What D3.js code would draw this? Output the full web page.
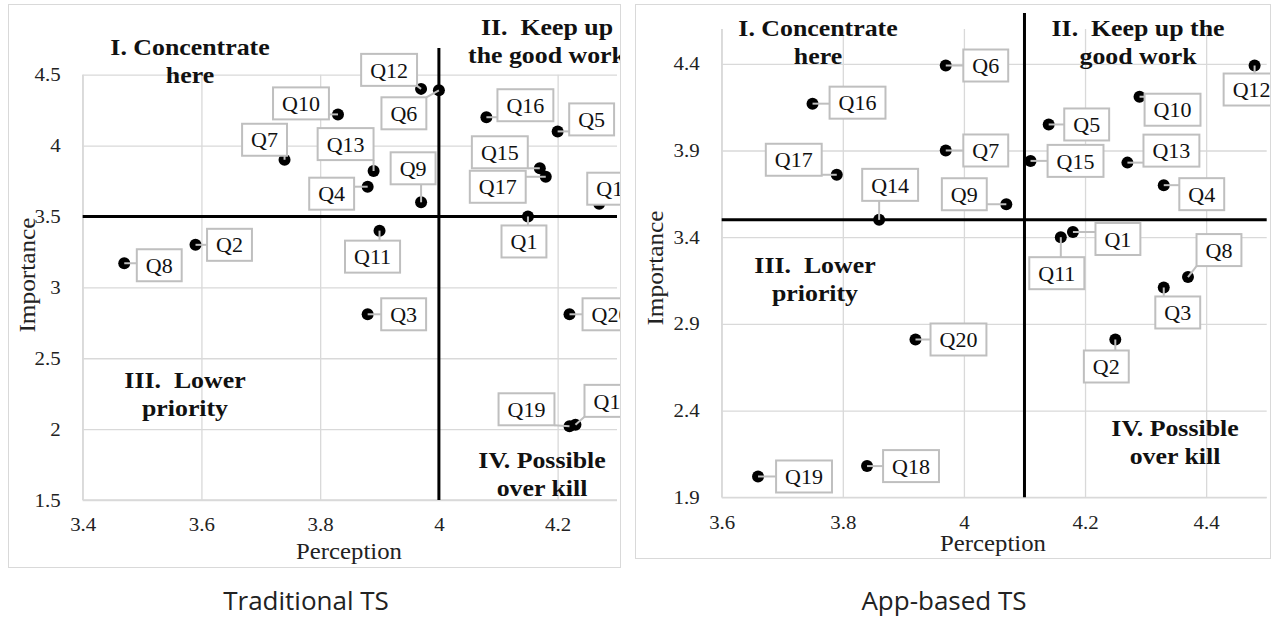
<!DOCTYPE html>
<html>
<head>
<meta charset="utf-8">
<script src="https://cdn.jsdelivr.net/npm/d3@7"></script>
<style>
  html, body { margin: 0; padding: 0; background: #fff; }
  svg { display: block; }
</style>
</head>
<body>
<svg id="chart" width="1276" height="619"></svg>
<script>
// ---- data: Traditional TS ----
const tradQuestions = ["Q1","Q2","Q3","Q4","Q5","Q6","Q7","Q8","Q9","Q10",
  "Q11","Q12","Q13","Q14","Q15","Q16","Q17","Q18","Q19","Q20"];
const tradPerception = [4.15, 3.59, 3.88, 3.88, 4.20, 4.00, 3.74, 3.47, 3.97, 3.83,
  3.90, 3.97, 3.89, 4.27, 4.17, 4.08, 4.18, 4.23, 4.22, 4.22];
const tradImportance = [3.50, 3.30, 2.81, 3.71, 4.10, 4.39, 3.90, 3.17, 3.60, 4.22,
  3.40, 4.40, 3.82, 3.59, 3.84, 4.20, 3.78, 2.03, 2.02, 2.81];
const tradXTicks = [3.4, 3.6, 3.8, 4, 4.2];
const tradYTicks = [1.5, 2, 2.5, 3, 3.5, 4, 4.5];
const tradXDomain = [3.4, 4.3];
const tradYDomain = [1.5, 4.5];
const tradCut = [4, 3.5];

// ---- data: App-based TS ----
const appQuestions = tradQuestions;
const appPerception = [4.18, 4.25, 4.33, 4.33, 4.14, 3.97, 3.97, 4.37, 4.07, 4.29,
  4.16, 4.48, 4.27, 3.86, 4.11, 3.75, 3.79, 3.84, 3.66, 3.92];
const appImportance = [3.43, 2.81, 3.11, 3.70, 4.05, 4.39, 3.90, 3.17, 3.59, 4.21,
  3.40, 4.39, 3.83, 3.50, 3.84, 4.17, 3.76, 2.08, 2.02, 2.81];
const appXTicks = [3.6, 3.8, 4, 4.2, 4.4];
const appYTicks = [1.9, 2.4, 2.9, 3.4, 3.9, 4.4];
const appXDomain = [3.6, 4.5];
const appYDomain = [1.9, 4.6];
const appCut = [4.1, 3.5];

const quadrantTexts = [
  ["I. Concentrate", "here"],
  ["II.  Keep up", "the good work"],
  ["III.  Lower", "priority"],
  ["IV. Possible", "over kill"]
];
const appQuadrantTexts = [
  ["I. Concentrate", "here"],
  ["II.  Keep up the", "good work"],
  ["III.  Lower", "priority"],
  ["IV. Possible", "over kill"]
];

// ---- layout (pixels) ----
// callout box centre relative to its point, per question
const tradCallout = [[-4,25],[34,0],[36,0],[-36,7],[34,-12],[-35,23],[-20,-20],[35,2],[-8,-34],[-37,-11],
  [-7,26],[-32,-19],[-28,-27],[16,-15],[-40,-16],[39,-12],[-48,10],[37,-24],[-43,-17],[41,0]];
const appCallout = [[45,7],[-9,27],[14,25],[38,9],[38,0],[40,0],[40,0],[31,-27],[-42,-10],[33,13],
  [-4,36],[-3,24],[44,-12],[11,-35],[45,0],[45,-1],[-43,-15],[44,0],[46,0],[43,0]];

const serif = "'Liberation Serif', 'Times New Roman', serif";
const SX = 1.1; // the source text is slightly wide
const svg = d3.select("#chart");

function drawPanel(o) {
  const g = svg.append("g");
  const clipId = "clip-" + o.id;
  svg.append("clipPath").attr("id", clipId)
    .append("rect").attr("x", o.frame[0]).attr("y", o.frame[1])
    .attr("width", o.frame[2] - o.frame[0]).attr("height", o.frame[3] - o.frame[1]);

  g.append("rect")
    .attr("x", o.frame[0] + 0.5).attr("y", o.frame[1] + 0.5)
    .attr("width", o.frame[2] - o.frame[0]).attr("height", o.frame[3] - o.frame[1])
    .attr("fill", "#fff").attr("stroke", "#d9d9d9");

  const x = d3.scaleLinear().domain(o.xDomain).range(o.xRange);
  const y = d3.scaleLinear().domain(o.yDomain).range(o.yRange);

  // gridlines
  g.append("g")
    .attr("transform", `translate(0,${o.yRange[0]})`)
    .call(d3.axisBottom(x).tickValues(o.xTicks).tickSize(o.yRange[1] - o.yRange[0]).tickFormat(""))
    .call(a => a.select(".domain").remove())
    .call(a => a.selectAll("line").attr("stroke", "#d9d9d9").attr("stroke-width", 1.3));
  g.append("g")
    .attr("transform", `translate(${o.xRange[0]},0)`)
    .call(d3.axisLeft(y).tickValues(o.yTicks).tickSize(o.xRange[0] - o.xRange[1]).tickFormat(""))
    .call(a => a.select(".domain").remove())
    .call(a => a.selectAll("line").attr("stroke", "#d9d9d9").attr("stroke-width", 1.3));
  g.append("line").attr("x1", o.xRange[0]).attr("x2", o.xRange[0])
    .attr("y1", o.yRange[0]).attr("y2", o.yRange[1]).attr("stroke", "#d9d9d9").attr("stroke-width", 1.3);
  g.append("line").attr("x1", o.xRange[0]).attr("x2", o.xRange[1])
    .attr("y1", o.yRange[0]).attr("y2", o.yRange[0]).attr("stroke", "#d9d9d9").attr("stroke-width", 1.3);

  // tick labels
  const xa = g.append("g")
    .attr("transform", `translate(0,${o.yRange[0]})`)
    .call(d3.axisBottom(x).tickValues(o.xTicks).tickSize(0).tickPadding(18).tickFormat(d3.format("")));
  const ya = g.append("g")
    .attr("transform", `translate(${o.xRange[0]},0)`)
    .call(d3.axisLeft(y).tickValues(o.yTicks).tickSize(0).tickPadding(20).tickFormat(d3.format("")));
  [xa, ya].forEach(a => {
    a.select(".domain").remove();
    a.selectAll("text").attr("font-family", serif).attr("font-size", 19).attr("fill", "#222")
      .attr("transform", `scale(${SX},1)`);
  });

  // axis titles
  g.append("text").attr("transform", `translate(${o.xTitle[0]},${o.xTitle[1]}) scale(${SX},1)`)
    .attr("text-anchor", "middle").attr("dominant-baseline", "central")
    .attr("font-family", serif).attr("font-size", 22.5).attr("fill", "#222").text("Perception");
  g.append("text")
    .attr("transform", `translate(${o.yTitle[0]},${o.yTitle[1]}) rotate(-90) scale(${SX},1)`)
    .attr("text-anchor", "middle").attr("dominant-baseline", "central")
    .attr("font-family", serif).attr("font-size", 23).attr("fill", "#222").text("Importance");

  // quadrant labels
  const qg = g.append("g").attr("clip-path", `url(#${clipId})`);
  o.quadText.forEach((lines, i) => {
    lines.forEach((s, j) => {
      qg.append("text")
        .attr("transform", `translate(${o.quadPos[i][0]},${o.quadPos[i][1] + j * 28}) scale(${SX},1)`)
        .attr("text-anchor", "middle").attr("dominant-baseline", "central")
        .attr("xml:space", "preserve")
        .attr("font-family", serif).attr("font-weight", "bold").attr("font-size", 23.5).attr("fill", "#111")
        .text(s);
    });
  });

  // cut lines
  g.append("line")
    .attr("x1", x(o.cut[0])).attr("x2", x(o.cut[0]))
    .attr("y1", o.yRange[0]).attr("y2", o.vTop)
    .attr("stroke", "#000").attr("stroke-width", 3);
  g.append("line")
    .attr("x1", o.xRange[0]).attr("x2", o.xRange[1])
    .attr("y1", y(o.cut[1])).attr("y2", y(o.cut[1]))
    .attr("stroke", "#000").attr("stroke-width", 3);

  const pts = o.labels.map((q, i) => ({
    q, px: x(o.xs[i]), py: y(o.ys[i]), off: o.callout[i]
  }));

  // points
  g.append("g").selectAll("circle").data(pts).join("circle")
    .attr("cx", d => d.px).attr("cy", d => d.py).attr("r", 6).attr("fill", "#000");

  // callouts
  const cg = g.append("g").attr("clip-path", `url(#${clipId})`);
  const items = cg.selectAll("g").data(pts).join("g");
  items.each(function (d) {
    const el = d3.select(this);
    const txt = el.append("text")
      .attr("font-family", serif).attr("font-size", 20).attr("fill", "#111")
      .attr("text-anchor", "middle").attr("dominant-baseline", "central").text(d.q);
    const w = txt.node().getComputedTextLength() * SX + 18;
    const h = 32;
    const cx = d.px + d.off[0], cy = d.py + d.off[1];
    const x0 = cx - w / 2, y0 = cy - h / 2;
    const ex = Math.max(x0, Math.min(x0 + w, d.px));
    const ey = Math.max(y0, Math.min(y0 + h, d.py));
    el.insert("line", "text")
      .attr("x1", d.px).attr("y1", d.py).attr("x2", ex).attr("y2", ey)
      .attr("stroke", "#bfbfbf").attr("stroke-width", 2);
    el.insert("rect", "text")
      .attr("x", x0).attr("y", y0).attr("width", w).attr("height", h)
      .attr("fill", "#fff").attr("stroke", "#bfbfbf").attr("stroke-width", 2);
    txt.attr("transform", `translate(${cx},${cy + 1}) scale(${SX},1)`);
  });

  // caption
  svg.append("text").attr("x", o.caption[0]).attr("y", o.caption[1])
    .attr("text-anchor", "middle").attr("dominant-baseline", "central")
    .attr("font-family", "'Open Sans', 'Noto Sans', sans-serif").attr("font-size", 26).attr("fill", "#222")
    .text(o.captionText);
}

drawPanel({
  id: "trad",
  frame: [8, 4, 620, 567],
  xRange: [82.7, 617], yRange: [500, 74.7],
  xDomain: tradXDomain, yDomain: tradYDomain,
  xTicks: tradXTicks, yTicks: tradYTicks,
  cut: tradCut, vTop: 48,
  labels: tradQuestions, xs: tradPerception, ys: tradImportance, callout: tradCallout,
  quadText: quadrantTexts,
  quadPos: [[190, 47], [547, 27], [185, 380], [542, 460]],
  xTitle: [349, 551], yTitle: [27, 275],
  caption: [306, 600], captionText: "Traditional TS"
});

drawPanel({
  id: "app",
  frame: [635, 4, 1270, 558],
  xRange: [721.7, 1266.7], yRange: [497.3, 29.1],
  xDomain: appXDomain, yDomain: appYDomain,
  xTicks: appXTicks, yTicks: appYTicks,
  cut: appCut, vTop: 13,
  labels: appQuestions, xs: appPerception, ys: appImportance, callout: appCallout,
  quadText: appQuadrantTexts,
  quadPos: [[818, 28], [1138, 28], [815, 265], [1175, 428]],
  xTitle: [993, 543], yTitle: [655, 268],
  caption: [944, 600], captionText: "App-based TS"
});
</script>
</body>
</html>
